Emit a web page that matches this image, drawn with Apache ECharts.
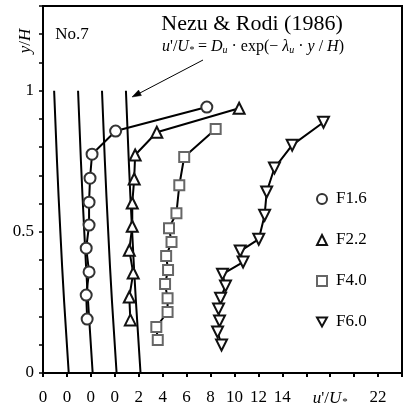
<!DOCTYPE html>
<html>
<head>
<meta charset="utf-8">
<script src="https://cdn.jsdelivr.net/npm/echarts@6/dist/echarts.min.js"></script>
<style>
html,body{margin:0;padding:0;background:#fff;}
#c{width:405px;height:412px;}
</style>
</head>
<body>
<div id="c"></div>
<script>
// ---- data (plotted positions, each profile shifted along u'/U*) ----
const seriesNames = ['F1.6', 'F2.2', 'F4.0', 'F6.0'];

const f16X = [7.69, 0.07, -1.90, -2.07, -2.15, -2.15, -2.39, -2.15, -2.39, -2.31];
const f16Y = [0.942, 0.857, 0.775, 0.690, 0.605, 0.524, 0.442, 0.358, 0.276, 0.191];

const f22X = [10.39, 3.51, 1.70, 1.62, 1.46, 1.46, 1.21, 1.54, 1.21, 1.30];
const f22Y = [0.938, 0.853, 0.772, 0.687, 0.602, 0.520, 0.435, 0.354, 0.269, 0.188];

const f40X = [8.43, 5.80, 5.39, 5.15, 4.53, 4.74, 4.29, 4.45, 4.20, 4.41, 4.41, 3.47, 3.59];
const f40Y = [0.864, 0.765, 0.665, 0.566, 0.513, 0.464, 0.414, 0.365, 0.315, 0.265, 0.216, 0.163, 0.117];

const f60X = [17.44, 14.82, 13.34, 12.69, 12.52, 12.03, 10.48, 10.72, 9.00, 9.25, 8.84, 8.67, 8.75, 8.59, 8.92];
const f60Y = [0.888, 0.807, 0.726, 0.641, 0.559, 0.474, 0.432, 0.393, 0.350, 0.308, 0.265, 0.227, 0.184, 0.145, 0.099];

// Nezu & Rodi (1986) curves
const nezuY  = [0, 0.25, 0.5, 0.75, 1.0];
const nezu1X = [-3.85, -4.23, -4.55, -4.83, -5.07];
const nezu2X = [-1.85, -2.23, -2.55, -2.83, -3.07];
const nezu3X = [0.15, -0.23, -0.55, -0.83, -1.07];
const nezu4X = [2.15, 1.77, 1.45, 1.17, 0.93];

// tick labels
const xTickLabels = {'-6':'0','-4':'0','-2':'0','0':'0','2':'2','4':'4','6':'6','8':'8','10':'10','12':'12','14':'14','22':'22'};
const yTickLabels = {'0':'0','0.5':'0.5','1':'1'};

const FONT = "'Liberation Serif','Times New Roman',serif";

function pairs(xs, ys){ return xs.map((x,i)=>[x, ys[i]]); }

const chart = echarts.init(document.getElementById('c'), null, {renderer:'canvas'});

const markerStyles = [
  {symbol:'circle', size:11, border:'#333'},
  {symbol:'triangle', size:11, border:'#111'},
  {symbol:'rect', size:10, border:'#666'},
  {symbol:'triangle', size:11, border:'#111', rotate:180}
];
const dataSets = [pairs(f16X,f16Y), pairs(f22X,f22Y), pairs(f40X,f40Y), pairs(f60X,f60Y)];

const series = [];
[nezu1X, nezu2X, nezu3X, nezu4X].forEach(xs => {
  series.push({
    type:'line', data: pairs(xs, nezuY), smooth:true, showSymbol:false, symbol:'none',
    silent:true, z:1,
    lineStyle:{color:'#000', width:2}
  });
});
seriesNames.forEach((n,i)=>{
  const m = markerStyles[i];
  series.push({
    name:n, type:'line', data:dataSets[i], z:3,
    symbol:m.symbol, symbolSize:m.size, symbolRotate:m.rotate||0, showAllSymbol:true,
    lineStyle:{color:'#000', width:2},
    itemStyle:{color:'#fff', borderColor:m.border, borderWidth:2},
    emphasis:{disabled:true}
  });
});

const legendIcons = ['circle','triangle','rect','path://M0,0L10,0L5,9Z'];

chart.setOption({
  animation:false,
  backgroundColor:'#fff',
  grid:{left:43, top:6, right:-4, bottom:39, show:true, borderColor:'#000', borderWidth:2, backgroundColor:'transparent'},
  xAxis:{
    type:'value', min:-6, max:24, interval:2,
    axisLine:{show:true, onZero:false, lineStyle:{color:'#000', width:2}},
    axisTick:{show:true, length:4, lineStyle:{color:'#000', width:2}},
    splitLine:{show:false},
    axisLabel:{
      margin:16, color:'#000', fontFamily:FONT, fontSize:17,
      formatter:function(v){
        if (Math.abs(v-18)<1e-6) return '{i|u}{n|\'/}{i|U}{s|*}';
        const k = String(Math.round(v));
        return xTickLabels[k] !== undefined ? xTickLabels[k] : '';
      },
      rich:{
        i:{fontFamily:FONT, fontStyle:'italic', fontSize:17, color:'#000'},
        n:{fontFamily:FONT, fontSize:17, color:'#000'},
        s:{fontFamily:FONT, fontSize:11, color:'#000', padding:[8,0,0,1]}
      }
    }
  },
  yAxis:{
    type:'value', min:0, max:1.3, interval:0.1,
    axisLine:{show:true, onZero:false, lineStyle:{color:'#000', width:2}},
    axisTick:{show:true, length:4, lineStyle:{color:'#000', width:1.5}},
    splitLine:{show:false},
    axisLabel:{
      margin:9, color:'#000', fontFamily:FONT, fontSize:17,
      formatter:function(v){
        const k = String(Math.round(v*10)/10);
        return yTickLabels[k] !== undefined ? yTickLabels[k] : '';
      }
    }
  },
  legend:{
    orient:'vertical', left:311, top:184, itemWidth:10, itemHeight:10, itemGap:21,
    selectedMode:false,
    textStyle:{fontFamily:FONT, fontSize:17, color:'#000', lineHeight:20, padding:[0,0,0,4]},
    data: seriesNames.map((n,i)=>({
      name:n, icon:legendIcons[i],
      itemStyle:{color:'#fff', borderColor:markerStyles[i].border, borderWidth:2}
    }))
  },
  graphic:[
    {type:'text', x:26, y:41, rotation:Math.PI/2, z:10,
     style:{text:'{i|y}{n|/}{i|H}', align:'center', verticalAlign:'middle',
            rich:{i:{fontFamily:FONT, fontStyle:'italic', fontSize:17, fill:'#000'},
                  n:{fontFamily:FONT, fontSize:17, fill:'#000'}}}},
    {type:'text', x:72, y:35, z:10,
     style:{text:'No.7', align:'center', verticalAlign:'middle', fontFamily:FONT, fontSize:17, fill:'#000'}},
    {type:'text', x:252, y:24, z:10,
     style:{text:'Nezu & Rodi (1986)', align:'center', verticalAlign:'middle', fontFamily:FONT, fontSize:22, fill:'#000'}},
    {type:'text', x:253, y:47, z:10,
     style:{text:'{i|u}{n|\'/}{i|U}{s|*}{n| = }{i|D}{s|u}{n| · exp(− }{i|λ}{s|u}{n| · }{i|y}{n| / }{i|H}{n|)}',
            align:'center', verticalAlign:'middle',
            rich:{i:{fontFamily:FONT, fontStyle:'italic', fontSize:16, fill:'#000'},
                  n:{fontFamily:FONT, fontSize:16, fill:'#000'},
                  s:{fontFamily:FONT, fontStyle:'italic', fontSize:10, fill:'#000', padding:[7,0,0,0]}}}},
    {type:'polyline', z:10, shape:{points:[[203,60],[138,94]]}, style:{stroke:'#000', lineWidth:1, fill:null}},
    {type:'polygon', z:10, shape:{points:[[132,97],[141.4,95.5],[138.6,90.1]]}, style:{fill:'#000', stroke:'#000', lineWidth:0.5}}
  ],
  series: series
});
</script>
</body>
</html>
